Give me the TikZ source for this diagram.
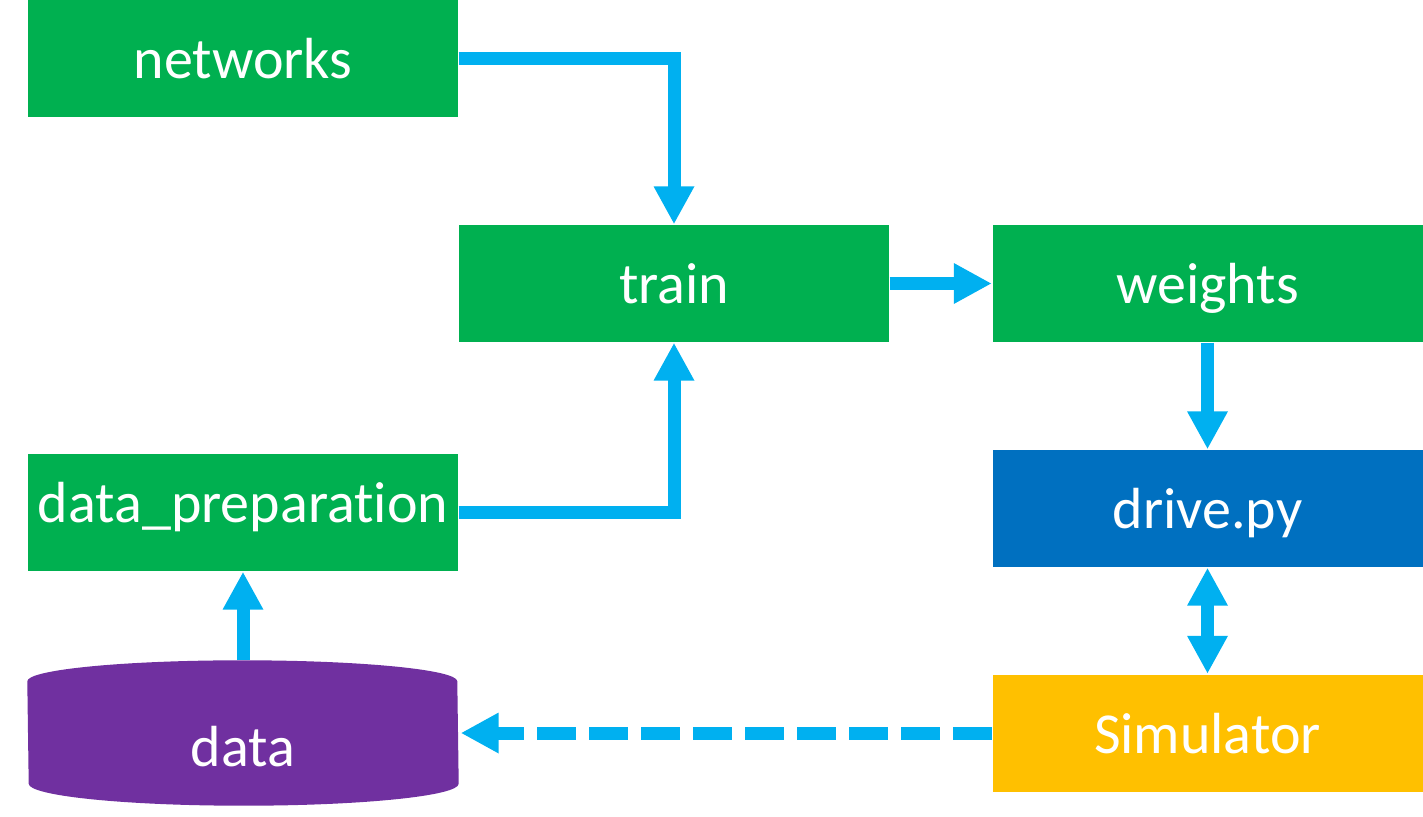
\documentclass[tikz,border=0pt]{standalone}
\usepackage{fontspec}
\setmainfont{Carlito}[Ligatures=NoCommon]
\usetikzlibrary{arrows.meta, backgrounds}

\definecolor{boxgreen}{HTML}{00B050}
\definecolor{boxblue}{HTML}{0070C0}
\definecolor{boxyellow}{HTML}{FFC000}
\definecolor{boxpurple}{HTML}{7030A0}
\definecolor{flowblue}{HTML}{00B0F0}

\tikzset{
    block/.style={fill=#1, text=white, minimum width=4.3cm, minimum height=1.17cm,
        inner sep=0pt, text height=13.4pt, text depth=2pt,
        font=\fontsize{16.5}{20}\selectfont},
    flowhead/.style={Triangle[length=3.8mm, width=3.8mm, fill=flowblue]},
    flow/.style={draw=flowblue, line width=1.3mm, -{Triangle[length=3.8mm, width=3.8mm]}},
    flowboth/.style={draw=flowblue, line width=1.3mm,
        {Triangle[length=3.8mm, width=3.8mm]}-{Triangle[length=3.8mm, width=3.8mm]}},
}

\begin{document}
\begin{tikzpicture}
    \useasboundingbox (0,0) rectangle (14.23,8.16);

    % Draw the boxes
    \node[block=boxgreen] (networks) at (2.43,7.575) {networks};
    \node[block=boxgreen] (train) at (6.74,5.325) {train};
    \node[block=boxgreen] (weights) at (12.075,5.325) {weights};
    \node[block=boxgreen] (dataprep) at (2.43,3.035) {\raisebox{0.1cm}{data\_preparation}};
    \node[block=boxblue] (drive) at (12.075,3.075) {drive.py};
    \node[block=boxyellow] (simulator) at (12.075,0.83) {Simulator};

    % Draw the data cylinder
    \node[block=none, minimum height=1.44cm] (data) at (2.43,0.83) {\raisebox{-0.13cm}{data}};
    \begin{scope}[on background layer]
        \fill[boxpurple] ([yshift=-2.1mm]data.north west)
            arc[start angle=180, end angle=0, x radius=2.15cm, y radius=2.1mm]
            -- ([yshift=2.2mm]data.south east)
            arc[start angle=0, end angle=-180, x radius=2.15cm, y radius=2.2mm]
            -- cycle;
    \end{scope}

    % Draw the arrows
    \draw[flow] (networks.east) -| (train.north);
    \draw[flow] (dataprep.east) -| (train.south);
    \draw[flow] (train.east) -- (weights.west);
    \draw[flow] (weights.south) -- (drive.north);
    \draw[flowboth] (drive.south) -- (simulator.north);
    \draw[flow] (data.north) -- (dataprep.south);
    \draw[flow, dash pattern=on 3.9mm off 1.3mm] (simulator.west) -- ([xshift=0.02cm]data.east);
\end{tikzpicture}
\end{document}
